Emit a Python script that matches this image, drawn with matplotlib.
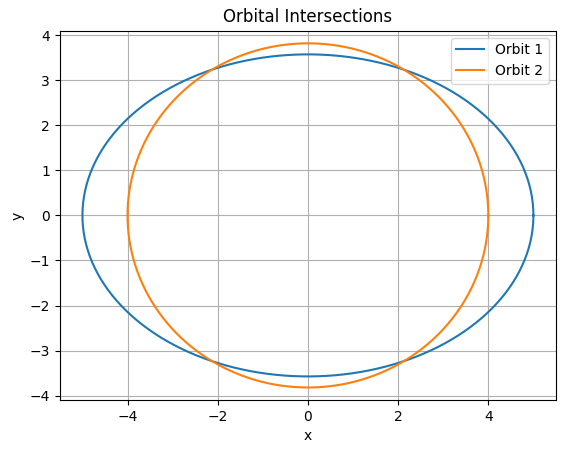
import numpy as np
import matplotlib
matplotlib.use("Agg")
import matplotlib.pyplot as plt

# orbit parameters: semi-major axis and eccentricity
names = ["Orbit 1", "Orbit 2"]
semi_major = [5.0, 4.0]
ecc = [0.7, 0.3]

theta = np.linspace(0, 2 * np.pi, 500)

fig = plt.figure(figsize=(5.65, 4.53), dpi=100)
ax = fig.add_subplot(111)
fig.subplots_adjust(left=0.106, right=0.984, top=0.932, bottom=0.117)

for name, a, e in zip(names, semi_major, ecc):
    b = a * np.sqrt(1 - e**2)
    ax.plot(a * np.cos(theta), b * np.sin(theta), label=name)

ax.set_title("Orbital Intersections")
ax.set_xlabel("x")
ax.set_ylabel("y")
ax.legend(loc="upper right")
ax.grid(True)
ax.axis("equal")

fig.savefig("out.png", dpi=100)
